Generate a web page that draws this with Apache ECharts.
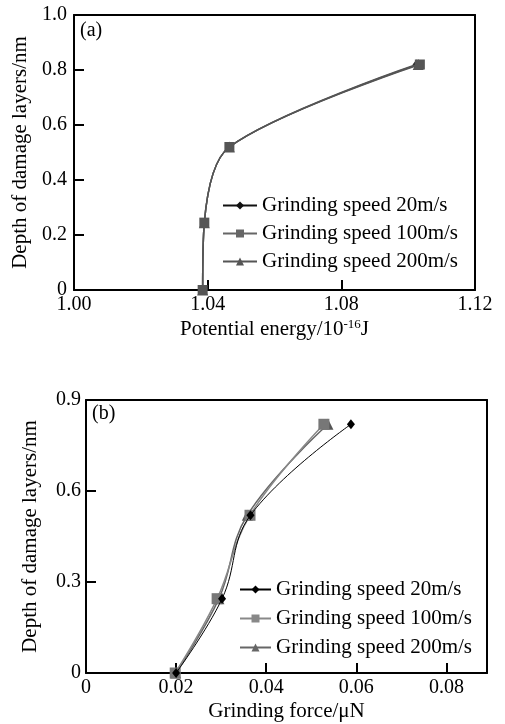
<!DOCTYPE html>
<html>
<head>
<meta charset="utf-8">
<script src="https://cdn.jsdelivr.net/npm/echarts@6/dist/echarts.min.js"></script>
<style>
  html, body { margin: 0; padding: 0; background: #fff; }
  #chart { width: 505px; height: 724px; }
</style>
</head>
<body>
<div id="chart"></div>
<script>
// series names
const speedNames = ['Grinding speed 20m/s', 'Grinding speed 100m/s', 'Grinding speed 200m/s'];

// (a) potential energy vs depth
const depthA = [0, 0.245, 0.52, 0.82];
const energyA20 = [1.0385, 1.0390, 1.0465, 1.1025];
const energyA100 = [1.0385, 1.0390, 1.0465, 1.1035];
const energyA200 = [1.0385, 1.0390, 1.0465, 1.1030];

// (b) grinding force vs depth
const depthB = [0, 0.245, 0.52, 0.82];
const forceB20 = [0.0200, 0.0302, 0.0365, 0.0588];
const forceB100 = [0.0198, 0.0291, 0.0364, 0.0528];
const forceB200 = [0.0199, 0.0295, 0.0358, 0.0537];

const font = 'Liberation Serif';

const pairs = (xs, ys) => xs.map((x, i) => [x, ys[i]]);

let chart = echarts.init(document.getElementById('chart'));

// box round each plot = extra top / right axes
// ticks only showed up with splitLine on, so keep it on but invisible
const mainLine = () => ({ show: true, lineStyle: { color: '#000', width: 2 } });
const tickIn = () => ({ show: true, inside: true, length: 10, lineStyle: { color: '#000', width: 2 } });
const hiddenSplit = () => ({ show: true, lineStyle: { color: 'rgba(0,0,0,0)' } });
const nameStyle = () => ({ color: '#000', fontSize: 21, fontFamily: font });
const labelStyle = (margin, fmt) => ({ color: '#000', fontSize: 20, fontFamily: font, margin: margin, formatter: fmt });

const frameAxis = (gridIndex, position, min, max) => ({
		type: 'value', gridIndex: gridIndex, position: position, min: min, max: max,
		axisLine: { show: true, onZero: false, lineStyle: { color: '#000', width: 2 } },
		axisTick: { show: false }, axisLabel: { show: false }, splitLine: { show: false }
});

const legendBase = {
		orient: 'vertical',
		padding: 0,
		itemWidth: 34,
		itemHeight: 10,
		itemGap: 7,
		textStyle: { color: '#000', fontSize: 21, fontFamily: font }
};

let option = {
		backgroundColor: '#fff',
		animation: false,
		grid: [
				{ left: 74, top: 15, width: 401, height: 275 },
				{ left: 86, top: 400, width: 401, height: 273 }
		],
		xAxis: [
				{
						type: 'value', gridIndex: 0, min: 1.00, max: 1.12, interval: 0.04,
						axisLine: mainLine(), axisTick: tickIn(), splitLine: hiddenSplit(),
						axisLabel: labelStyle(5, v => v.toFixed(2)),
						name: '{t|Potential energy/10}{s|-16}{t|J}',
						nameLocation: 'middle',
						nameGap: 28,
						nameTextStyle: {
								rich: {
										t: nameStyle(),
										s: { color: '#000', fontSize: 13, fontFamily: font, verticalAlign: 'top', padding: [0, 0, 9, 0] }
								}
						}
				},
				{
						type: 'value', gridIndex: 1, min: 0, max: 0.089, interval: 0.02,
						axisLine: mainLine(), axisTick: tickIn(), splitLine: hiddenSplit(),
						axisLabel: Object.assign(labelStyle(5, v => v === 0 ? '0' : v.toFixed(2)), { showMaxLabel: false }),
						name: 'Grinding force/μN',
						nameLocation: 'middle',
						nameGap: 28,
						nameTextStyle: nameStyle()
				},
				frameAxis(0, 'top', 1.00, 1.12),
				frameAxis(1, 'top', 0, 0.089)
		],
		yAxis: [
				{
						type: 'value', gridIndex: 0, min: 0, max: 1.0, interval: 0.2,
						axisLine: mainLine(), axisTick: tickIn(), splitLine: hiddenSplit(),
						axisLabel: labelStyle(7, v => v === 0 ? '0' : v.toFixed(1)),
						name: 'Depth of damage layers/nm',
						nameLocation: 'middle',
						nameGap: 40,
						nameTextStyle: nameStyle()
				},
				{
						type: 'value', gridIndex: 1, min: 0, max: 0.9, interval: 0.3,
						axisLine: mainLine(), axisTick: tickIn(), splitLine: hiddenSplit(),
						axisLabel: labelStyle(5, v => v === 0 ? '0' : v.toFixed(1)),
						name: 'Depth of damage layers/nm',
						nameLocation: 'middle',
						nameGap: 45,
						nameTextStyle: nameStyle()
				},
				frameAxis(0, 'right', 0, 1.0),
				frameAxis(1, 'right', 0, 0.9)
		],
		legend: [
				Object.assign({}, legendBase, {
						left: 222, top: 195,
						data: [
								{ name: speedNames[0], itemStyle: { color: '#111' }, lineStyle: { color: '#111' } },
								{ name: speedNames[1], itemStyle: { color: '#666' }, lineStyle: { color: '#666' } },
								{ name: speedNames[2], itemStyle: { color: '#555' }, lineStyle: { color: '#555' } }
						]
				}),
				Object.assign({}, legendBase, {
						left: 239, top: 579,
						itemWidth: 31,
						itemGap: 8,
						data: [
								{ name: speedNames[0], itemStyle: { color: '#000' }, lineStyle: { color: '#000' } },
								{ name: speedNames[1], itemStyle: { color: '#888' }, lineStyle: { color: '#888' } },
								{ name: speedNames[2], itemStyle: { color: '#666' }, lineStyle: { color: '#666' } }
						]
				})
		],
		graphic: [
				{ type: 'text', left: 80, top: 21, style: { text: '(a)', fill: '#000', font: '20px "Liberation Serif"' } },
				{ type: 'text', left: 92, top: 404, style: { text: '(b)', fill: '#000', font: '20px "Liberation Serif"' } }
		],
		series: [
				{
						name: speedNames[0], type: 'line', xAxisIndex: 0, yAxisIndex: 0,
						data: pairs(energyA20, depthA), smooth: 0.3,
						symbol: 'diamond', symbolSize: [8, 10],
						lineStyle: { color: '#555', width: 1.5 }, itemStyle: { color: '#333' }, z: 2
				},
				{
						name: speedNames[2], type: 'line', xAxisIndex: 0, yAxisIndex: 0,
						data: pairs(energyA200, depthA), smooth: 0.3,
						symbol: 'triangle', symbolSize: 11,
						lineStyle: { color: '#555', width: 1.5 }, itemStyle: { color: '#555' }, z: 3
				},
				{
						name: speedNames[1], type: 'line', xAxisIndex: 0, yAxisIndex: 0,
						data: pairs(energyA100, depthA), smooth: 0.3,
						symbol: 'rect', symbolSize: 10,
						lineStyle: { color: '#555', width: 1.5 }, itemStyle: { color: '#555' }, z: 4
				},
				{
						name: speedNames[0], type: 'line', xAxisIndex: 1, yAxisIndex: 1,
						data: pairs(forceB20, depthB), smooth: 0.4,
						symbol: 'diamond', symbolSize: [8, 10],
						lineStyle: { color: '#000', width: 1 }, itemStyle: { color: '#000' }, z: 4
				},
				{
						name: speedNames[1], type: 'line', xAxisIndex: 1, yAxisIndex: 1,
						data: pairs(forceB100, depthB), smooth: 0.4,
						symbol: 'rect', symbolSize: 11,
						lineStyle: { color: '#888', width: 1.5 }, itemStyle: { color: '#777' }, z: 3
				},
				{
						name: speedNames[2], type: 'line', xAxisIndex: 1, yAxisIndex: 1,
						data: pairs(forceB200, depthB), smooth: 0.4,
						symbol: 'triangle', symbolSize: 11,
						lineStyle: { color: '#666', width: 1.5 }, itemStyle: { color: '#555' }, z: 2
				}
		]
};

chart.setOption(option);
</script>
</body>
</html>
